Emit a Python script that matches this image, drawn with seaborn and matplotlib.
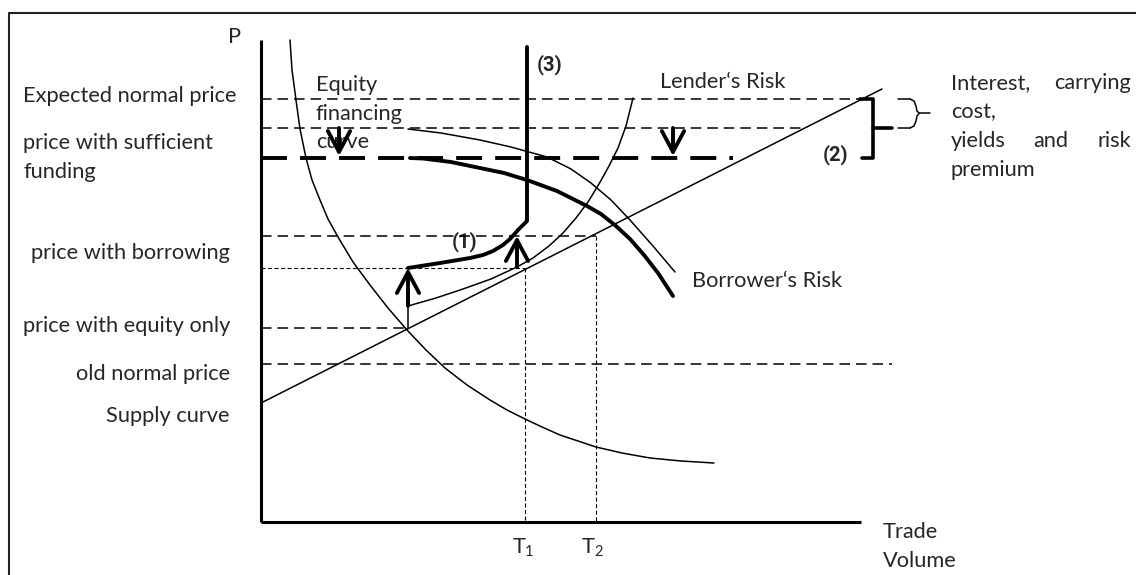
import numpy as np
import pandas as pd
import seaborn as sns
import matplotlib.pyplot as plt

# diagram units: volume = trade volume, price = P (origin at the axes corner)
demand_vol = [29, 31, 35, 39, 45, 51, 59, 67, 77, 92, 109, 127, 146, 165, 184, 206, 229,
              246, 264, 281, 299, 317, 335, 361, 389, 420, 453]
demand_price = [482, 452, 422, 393, 364, 342, 322, 303, 285, 260, 237, 214, 192, 172, 154,
                137, 122, 112, 103, 95, 87, 81, 75, 69, 64, 61, 59]

supply_vol = [0, 621]
supply_price = [119, 433]

lender_vol = [147, 175, 202, 230, 256, 272, 288, 302, 315, 327, 338, 348, 357, 365, 372]
lender_price = [216, 224, 233, 243, 255, 264, 276, 289, 304, 320, 338, 356, 374, 396, 424]

path13_vol = [147, 179, 209, 222, 232, 242, 249, 257, 266, 266]
path13_price = [254, 259, 264, 267, 271, 277, 283, 292, 301, 475]

equity_vol = [149, 162, 190, 219, 243, 266, 296, 326, 340, 355, 369, 383, 397, 412]
equity_price = [364, 363.5, 360, 354, 349, 342, 331, 316, 308, 296, 283, 267, 249, 226]

borrower_vol = [147, 180, 219, 250, 286, 310, 330, 350, 369, 392, 414]
borrower_price = [393, 389, 382, 375, 365, 353, 339, 322, 302, 276, 250]

# price levels and where each dashed guide ends
p_expected, p_shifted, p_sufficient = 423, 394, 364
p_borrowing, p_t1, p_equity_only, p_old = 286, 254, 194, 158
T1, T2 = 264, 335

left_labels = ["price with borrowing", "price with equity only", "old normal price", "Supply curve"]

sns.set_theme(style="white")
plt.rcParams['font.family'] = ['Lato', 'DejaVu Sans']
plt.rcParams['lines.scale_dashes'] = False

fig = plt.figure(figsize=(11.36, 5.75), dpi=100)
ax = fig.add_axes([0, 0, 1, 1])
ax.set_xlim(-261, 875)
ax.set_ylim(-53, 522)
ax.axis("off")

K = "black"
thin = 1.1
thick = 2.8
dash = (0, (7.6, 4.3))
bigdash = (0, (18.7, 9.4))
dot = (0, (2.9, 1.8))

# frame
ax.plot([-252, -252, 900], [-80, 509, 509], color="#222222", lw=1.5)

# axes
ax.plot([0, 0], [482, 0], color=K, lw=2.2, solid_capstyle="butt")
ax.plot([0, 600], [0, 0], color=K, lw=2.2, solid_capstyle="butt")

# dashed guides
ax.plot([0, 601], [p_expected] * 2, color=K, lw=thin, ls=dash)
ax.plot([0, 545], [p_shifted] * 2, color=K, lw=thin, ls=dash)
ax.plot([0, 472], [p_sufficient] * 2, color=K, lw=thick, ls=bigdash)
ax.plot([0, T2], [p_borrowing] * 2, color=K, lw=thin, ls=dash)
ax.plot([0, T1], [p_t1] * 2, color=K, lw=0.8, ls=dot)
ax.plot([0, 147], [p_equity_only] * 2, color=K, lw=thin, ls=dash)
ax.plot([0, 631], [p_old] * 2, color=K, lw=thin, ls=dash)
ax.plot([T1, T1], [p_t1, 0], color=K, lw=0.8, ls=dot)
ax.plot([T2, T2], [p_borrowing, 0], color=K, lw=0.8, ls=dot)

# curves
line_kw = dict(sort=False, estimator=None, color=K, ax=ax)
sns.lineplot(x=demand_vol, y=demand_price, lw=thin, **line_kw)
sns.lineplot(x=supply_vol, y=supply_price, lw=thin, **line_kw)
sns.lineplot(x=lender_vol, y=lender_price, lw=thin, **line_kw)
sns.lineplot(x=borrower_vol, y=borrower_price, lw=thin, **line_kw)
sns.lineplot(x=equity_vol, y=equity_price, lw=thick, **line_kw)
sns.lineplot(x=path13_vol, y=path13_price, lw=thick, **line_kw)
ax.plot([147, 147], [p_equity_only, 216], color=K, lw=thin)

# arrows
arr = dict(arrowstyle="->,head_length=0.75,head_width=0.4", lw=2.8, color=K, mutation_scale=20,
           shrinkA=0, shrinkB=0)
ax.annotate("", xy=(147, p_t1), xytext=(147, 216), arrowprops=arr)
ax.annotate("", xy=(256, p_borrowing), xytext=(256, 255), arrowprops=arr)
ax.annotate("", xy=(78, p_sufficient + 2), xytext=(78, p_shifted), arrowprops=arr)
ax.annotate("", xy=(412, p_sufficient + 2), xytext=(412, p_shifted), arrowprops=arr)

# bracket (2) and small brace
ax.plot([599, 612, 612, 601], [p_expected, p_expected, p_sufficient, p_sufficient], color=K, lw=2.6)
ax.plot([612, 631], [p_shifted, p_shifted], color=K, lw=2.6)
ax.plot([637, 649], [p_expected] * 2, color=K, lw=thin)
ax.plot([637, 649], [p_shifted] * 2, color=K, lw=thin)
ax.plot([649, 653, 655, 656, 658, 669], [p_expected, 421, 416, 411, 409, 409], color=K, lw=thin)
ax.plot([649, 653, 655, 656, 658], [p_shifted, 396, 401, 406, 408.5], color=K, lw=thin)

fs = 15.7
bold = dict(fontsize=14.5, fontweight="bold", family=["Roboto", "DejaVu Sans"], ha="left", va="baseline")
# text labels
ax.text(-26, 485, "P", fontsize=fs, ha="center", va="center")
ax.text(-238, 420, "Expected normal price", fontsize=fs, ha="left", va="baseline")
ax.text(-238, 373, "price with sufficient", fontsize=fs, ha="left", va="baseline")
ax.text(-238, 344, "funding", fontsize=fs, ha="left", va="baseline")
for lab, yb in zip(left_labels, [263, 190, 142, 100]):
    ax.text(-31, yb, lab, fontsize=fs, ha="right", va="baseline")
for lab, yb in zip(["Equity", "financing", "curve"], [431, 402, 374]):
    ax.text(55, yb, lab, fontsize=fs, ha="left", va="baseline", zorder=1)
ax.text(276, 452, "(3)", **bold)
ax.text(191, 275, "(1)", zorder=1, **bold)
ax.text(562, 362, "(2)", **bold)
ax.text(399, 434, "Lender\u2018s Risk", fontsize=fs, ha="left", va="baseline")
ax.text(431, 235, "Borrower\u2018s Risk", fontsize=fs, ha="left", va="baseline")
ax.text(252, -31, "T", fontsize=fs, ha="left", va="baseline")
ax.text(264, -34, "1", fontsize=10.5, ha="left", va="baseline")
ax.text(321, -31, "T", fontsize=fs, ha="left", va="baseline")
ax.text(333, -34, "2", fontsize=10.5, ha="left", va="baseline")
ax.text(622, -16, "Trade", fontsize=fs, ha="left", va="baseline")
ax.text(622, -45, "Volume", fontsize=fs, ha="left", va="baseline")

ax.text(690, 433, "Interest,", fontsize=fs, ha="left", va="baseline")
ax.text(870, 433, "carrying", fontsize=fs, ha="right", va="baseline")
ax.text(690, 404, "cost,", fontsize=fs, ha="left", va="baseline")
ax.text(690, 375, "yields", fontsize=fs, ha="left", va="baseline")
ax.text(772, 375, "and", fontsize=fs, ha="left", va="baseline")
ax.text(870, 375, "risk", fontsize=fs, ha="right", va="baseline")
ax.text(690, 346, "premium", fontsize=fs, ha="left", va="baseline")

fig.savefig("out.png", dpi=100)
